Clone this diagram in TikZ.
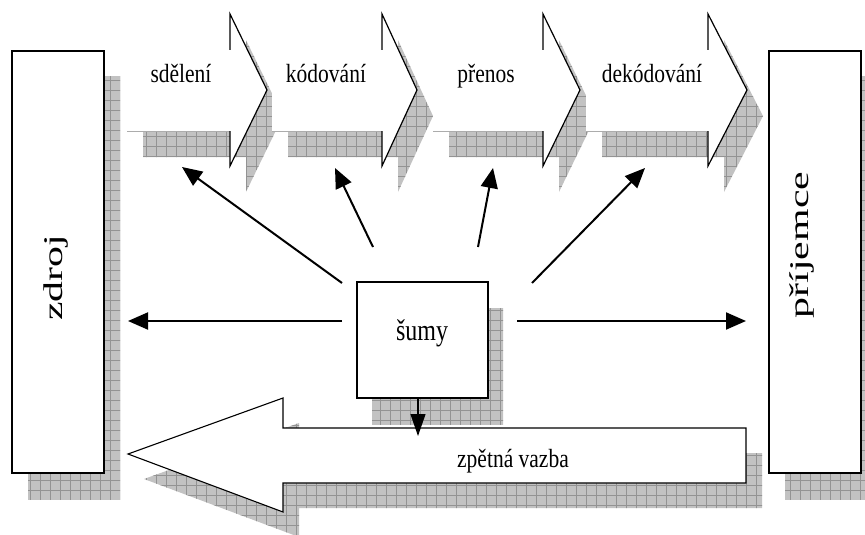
\documentclass[tikz,border=0pt]{standalone}
\usepackage{fontspec}
\setmainfont{Liberation Serif}
\usetikzlibrary{arrows.meta}
\newcommand{\tallbox}[2]{\scalebox{1}[#1]{#2}}
% #1 = shift, #2 = path
\newcommand{\gridshadow}[2]{%
  \begin{scope}[shift={#1}]
    \clip #2;
    \fill[gray!48] (0,0) rectangle (880,550);
    \foreach \gx in {0,10,...,880} {\draw[gridline] (\gx,0) -- (\gx,550);}
    \foreach \gy in {0,10,...,550} {\draw[gridline] (0,\gy) -- (880,\gy);}
  \end{scope}}
\begin{document}
\begin{tikzpicture}[x=1pt,y=-1pt,
  gridline/.style={draw=gray!85, line width=0.6pt},
  box/.style={draw=black, line width=1.2pt, fill=white, inner sep=0pt},
  headline/.style={draw=black, line width=1.2pt, line join=miter},
  bodyline/.style={draw=gray!65, line width=0.8pt},
  lab/.style={font=\fontsize{21.5}{24}\selectfont, inner sep=0pt, anchor=base},
  vlab/.style={font=\fontsize{27}{30}\selectfont, inner sep=0pt, rotate=90, anchor=base},
  conn/.style={line width=2pt, -{Triangle[length=20pt,width=17pt]}}]
\useasboundingbox (0,0) rectangle (865,535);
% ---------- shadows ----------
\gridshadow{(0,0)}{(28,77) rectangle (120,499)}
\gridshadow{(0,0)}{(785,77) rectangle (865,499)}
\foreach \a/\h/\t in {127/230/267, 272/382/417, 433/543/580, 586/708/747} {
  \gridshadow{(16,26)}{(\a,50) -- (\h,50) -- (\h,14) -- (\t,90) -- (\h,166) -- (\h,131) -- (\a,131) -- cycle}
}
\gridshadow{(0,0)}{(372,308) rectangle (503,424)}
\gridshadow{(16,25)}{(746,428) -- (283,428) -- (283,398) -- (128,454) -- (283,512) -- (283,483) -- (746,483) -- cycle}
% ---------- top arrows ----------
\foreach \a/\h/\t in {127/230/267, 272/382/417, 433/543/580, 586/708/747} {
  \fill[white] (\a,50) -- (\h,50) -- (\h,14) -- (\t,90) -- (\h,166) -- (\h,131) -- (\a,131) -- cycle;
}
\foreach \a/\h/\t in {127/230/267, 272/382/417, 433/543/580, 586/708/747} {
  \draw[bodyline] (\a,131) -- (\h,131);
  \draw[headline] (\h,50) -- (\h,14) -- (\t,90) -- (\h,166) -- (\h,131);
}
\node[lab] (l1) at (181,83) {\tallbox{1.22}{sdělení}};
\node[lab] (l2) at (326,83) {\tallbox{1.22}{kódování}};
\node[lab] (l3) at (486,83) {\tallbox{1.22}{přenos}};
\node[lab] (l4) at (652,83) {\tallbox{1.22}{dekódování}};
% ---------- feedback arrow ----------
\filldraw[fill=white, draw=black, line width=1.1pt, line join=miter] (746,428) -- (283,428) -- (283,398) -- (128,454) -- (283,512) -- (283,483) -- (746,483) -- cycle;
\node[lab] (fb) at (513,467) {\tallbox{1.22}{zpětná vazba}};
% ---------- boxes ----------
\node[box, minimum width=92pt, minimum height=422pt] (zdroj) at (58,262) {};
\node[box, minimum width=92pt, minimum height=422pt] (prijemce) at (815,262) {};
\node[box, minimum width=131pt, minimum height=116pt] (sumy) at (422.5,340) {};
\node[vlab] (tz) at (62,278) {\scalebox{1.55}[1]{zdroj}};
\node[vlab] (tp) at (808,245) {\scalebox{1.55}[1]{příjemce}};
\node[lab, font=\fontsize{24}{27}\selectfont] (ts) at (422,340) {\tallbox{1.25}{šumy}};
% ---------- connectors ----------
\coordinate (tL) at (342,321); \coordinate (hL) at (128,321);
\coordinate (tR) at (517,321); \coordinate (hR) at (746,321);
\coordinate (t1) at (342,283); \coordinate (h1) at (182,167);
\coordinate (t2) at (373,247); \coordinate (h2) at (335,168);
\coordinate (t3) at (478,247); \coordinate (h3) at (493,168);
\coordinate (t4) at (532,283); \coordinate (h4) at (645,168);
\coordinate (hD) at (418,436);
\draw[conn] (tL) -- (hL);
\draw[conn] (tR) -- (hR);
\draw[conn] (t1) -- (h1);
\draw[conn] (t2) -- (h2);
\draw[conn] (t3) -- (h3);
\draw[conn] (t4) -- (h4);
\draw[line width=1.2pt, -{Triangle[length=22pt,width=15pt]}] (sumy.south -| hD) -- (hD);
\end{tikzpicture}
\end{document}
